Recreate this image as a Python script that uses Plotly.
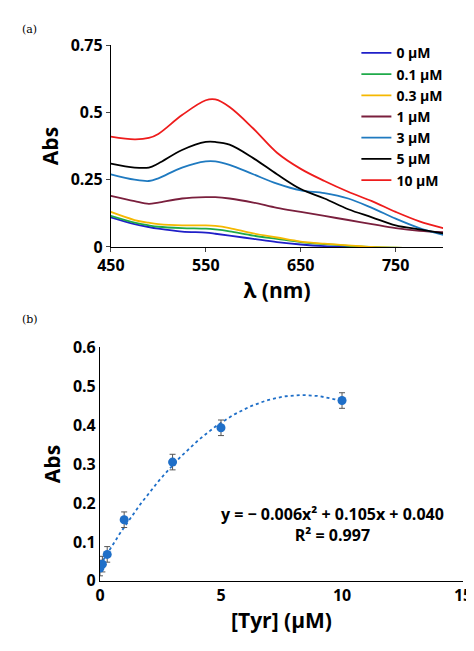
import numpy as np
import plotly.graph_objects as go

# (a) UV-vis spectra
wavelength = [450, 475, 490, 500, 525, 550, 560, 575, 600, 625, 650, 675, 700, 725, 750, 775, 800]
spectra = {
    "0 µM":   [0.110, 0.085, 0.074, 0.068, 0.057, 0.053, 0.049, 0.042, 0.030, 0.018, 0.009, 0.003, 0.000, -0.003, -0.005, -0.006, -0.007],
    "0.1 µM": [0.115, 0.090, 0.080, 0.075, 0.070, 0.068, 0.065, 0.058, 0.042, 0.030, 0.018, 0.010, 0.004, 0.000, -0.003, -0.005, -0.006],
    "0.3 µM": [0.130, 0.100, 0.090, 0.085, 0.080, 0.080, 0.078, 0.070, 0.050, 0.035, 0.020, 0.012, 0.006, 0.000, -0.003, -0.005, -0.006],
    "1 µM":   [0.190, 0.170, 0.160, 0.165, 0.180, 0.185, 0.185, 0.180, 0.165, 0.145, 0.130, 0.115, 0.100, 0.085, 0.070, 0.060, 0.055],
    "3 µM":   [0.270, 0.250, 0.245, 0.255, 0.295, 0.318, 0.318, 0.305, 0.270, 0.235, 0.210, 0.200, 0.180, 0.145, 0.105, 0.070, 0.045],
    "5 µM":   [0.310, 0.295, 0.295, 0.310, 0.360, 0.390, 0.390, 0.380, 0.330, 0.270, 0.215, 0.180, 0.140, 0.110, 0.080, 0.065, 0.050],
    "10 µM":  [0.410, 0.400, 0.405, 0.420, 0.490, 0.545, 0.548, 0.520, 0.440, 0.350, 0.290, 0.245, 0.205, 0.170, 0.130, 0.095, 0.070],
}
colors = ["#1f1fc8", "#1faa4a", "#f5b800", "#7a1f3d", "#1f7ac0", "#000000", "#ee1c1c"]

# (b) calibration
tyr = [0, 0.1, 0.3, 1, 3, 5, 10]
abs_b = [0.033, 0.043, 0.068, 0.157, 0.305, 0.393, 0.463]
err_b = [0.02, 0.02, 0.02, 0.02, 0.02, 0.02, 0.02]

FONT = "Open Sans"
fig = go.Figure()
for (name, vals), c in zip(spectra.items(), colors):
    fig.add_trace(go.Scatter(x=wavelength, y=vals, mode="lines", name=name,
                             line=dict(color=c, width=1.8, shape="spline"),
                             xaxis="x", yaxis="y"))

coef = np.polyfit(tyr, abs_b, 2)
xs = np.linspace(0, 10, 100)
fig.add_trace(go.Scatter(x=xs, y=np.polyval(coef, xs), mode="lines", showlegend=False,
                         line=dict(color="#1f6fc8", width=1.8, dash="dot"), xaxis="x2", yaxis="y2"))
fig.add_trace(go.Scatter(x=tyr, y=abs_b, mode="markers", showlegend=False,
                         marker=dict(color="#1f6fc8", size=9),
                         error_y=dict(type="data", array=err_b, color="#555555", thickness=1, width=3),
                         xaxis="x2", yaxis="y2"))

tickfont = dict(family=FONT, size=16, color="black", weight="bold")
titlefont = dict(family=FONT, size=21, color="black", weight="bold")
fig.update_layout(
    width=474, height=651, margin=dict(l=0, r=0, t=0, b=0),
    plot_bgcolor="white", paper_bgcolor="white",
    xaxis=dict(domain=[0.217, 0.918], range=[450, 800], tickvals=[450, 550, 650, 750],
               showline=True, linecolor="black", ticks="outside", ticklen=4, showgrid=False,
               zeroline=False, tickfont=tickfont, anchor="y", automargin=False,
               title=dict(text="λ (nm)", font=titlefont, standoff=2)),
    yaxis=dict(domain=[0.633, 0.943], range=[0, 0.75], tickvals=[0, 0.25, 0.5, 0.75],
               ticktext=["0", "0.25", "0.5", "0.75"], automargin=False,
               showline=True, linecolor="black", ticks="outside", ticklen=4, showgrid=False,
               zeroline=False, tickfont=tickfont, anchor="x",
               title=dict(text="Abs", font=titlefont, standoff=6)),
    xaxis2=dict(domain=[0.194, 0.96], range=[0, 15], tickvals=[0, 5, 10, 15],
                showline=True, linecolor="black", ticks="", showgrid=False, zeroline=False,
                tickfont=tickfont, anchor="y2", automargin=False,
                title=dict(text="[Tyr] (μM)", font=titlefont, standoff=8)),
    yaxis2=dict(domain=[0.12, 0.479], range=[0, 0.6], dtick=0.1, automargin=False,
                showline=True, linecolor="black", ticks="", showgrid=False, zeroline=False,
                tickfont=tickfont, anchor="x2",
                title=dict(text="Abs", font=titlefont, standoff=6)),
    legend=dict(x=0.735, y=0.955, xanchor="left", yanchor="top", tracegroupgap=0,
                font=dict(family=FONT, size=14, color="black", weight="bold"),
                itemwidth=30, bgcolor="rgba(0,0,0,0)"),
    annotations=[
        dict(text="(a)", x=12 / 474, y=1 - 13 / 651, xref="paper", yref="paper", xanchor="left",
             showarrow=False, font=dict(family="DejaVu Serif", size=11, color="black")),
        dict(text="(b)", x=12 / 474, y=1 - 311 / 651, xref="paper", yref="paper", xanchor="left",
             showarrow=False, font=dict(family="DejaVu Serif", size=11, color="black")),
        dict(text="y = − 0.006x² + 0.105x + 0.040<br>R² = 0.997", x=9.6, y=0.145,
             xref="x2", yref="y2", showarrow=False, align="center",
             font=dict(family=FONT, size=16, color="black", weight="bold")),
    ],
)

fig.write_html("out.html")
